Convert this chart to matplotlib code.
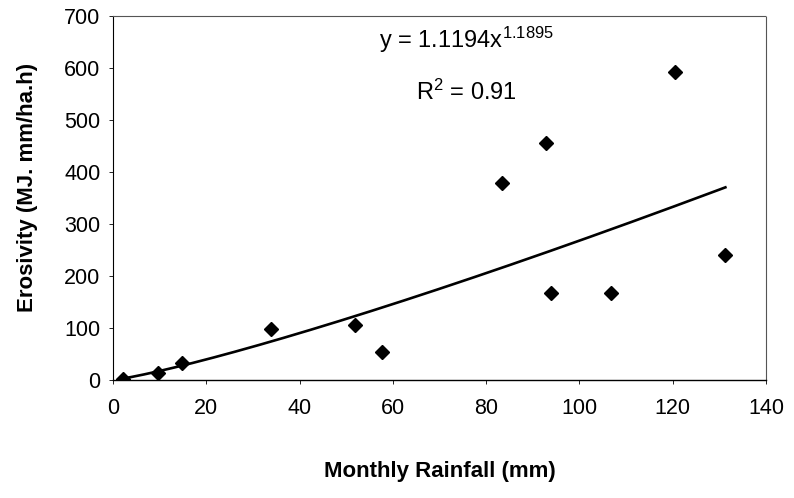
import numpy as np
import matplotlib
matplotlib.use("Agg")
import matplotlib.pyplot as plt

plt.rcParams["font.family"] = ["Liberation Sans", "DejaVu Sans"]
plt.rcParams["mathtext.default"] = "regular"

# monthly rainfall (mm) vs erosivity (MJ.mm/ha.h)
rainfall = [2.1, 9.6, 14.8, 33.9, 51.9, 57.7, 83.4, 92.8, 93.9, 106.8, 120.6, 131.3]
erosivity = [2.5, 13.5, 33, 98, 106, 54, 378, 456, 168, 168, 592, 240]

# power fit shown on the chart
fit_a = 1.1194
fit_b = 1.1895
fit_r2 = 0.91

x_ticks = [0, 20, 40, 60, 80, 100, 120, 140]
y_ticks = [0, 100, 200, 300, 400, 500, 600, 700]

fig = plt.figure(figsize=(7.94, 4.98), dpi=100)
ax = fig.add_axes([0.1423, 0.237, 0.8224, 0.731])

xs = np.linspace(min(rainfall), max(rainfall), 200)
ax.plot(xs, fit_a * xs ** fit_b, color="black", linewidth=1.9, zorder=2)
ax.plot(rainfall, erosivity, linestyle="none", marker="D", markersize=7.5,
        color="black", zorder=3)

ax.set_xlim(0, 140)
ax.set_ylim(0, 700)
ax.set_xticks(x_ticks)
ax.set_yticks(y_ticks)
ax.tick_params(axis="both", labelsize=15.5, length=3, width=0.6, direction="out")
ax.tick_params(axis="x", pad=10)
ax.tick_params(axis="y", pad=6)

for side in ["top", "right"]:
    ax.spines[side].set_linestyle((0, (1, 1)))
    ax.spines[side].set_color("#555555")
    ax.spines[side].set_linewidth(0.8)
ax.spines["left"].set_linewidth(0.8)
ax.spines["bottom"].set_linewidth(1.0)

ax.set_xlabel("Monthly Rainfall (mm)", fontsize=16, fontweight="bold")
ax.set_ylabel("Erosivity (MJ. mm/ha.h)", fontsize=16, fontweight="bold")
ax.xaxis.set_label_coords(0.5, -0.222)
ax.yaxis.set_label_coords(-0.115, 0.53)

ax.text(75.7, 654, f"y = {fit_a}x$^{{{fit_b}}}$", fontsize=17, ha="center", va="center")
ax.text(75.7, 554, f"R$^{{2}}$ = {fit_r2}", fontsize=17, ha="center", va="center")

fig.savefig("out.png", dpi=100)
